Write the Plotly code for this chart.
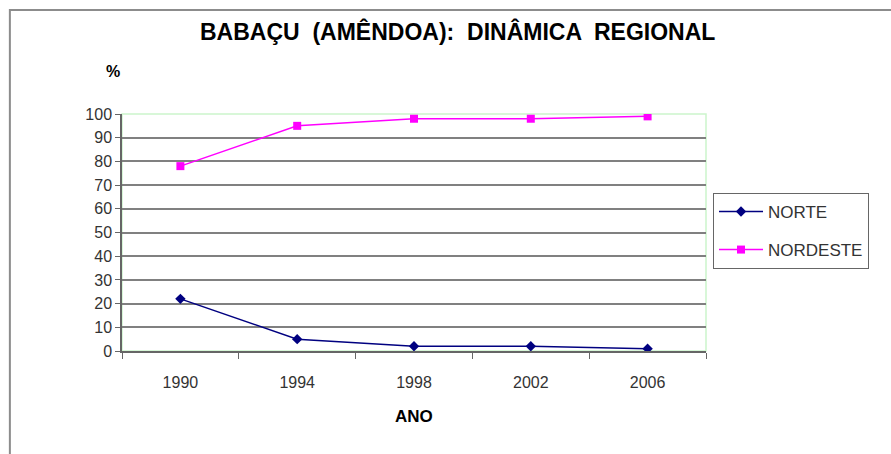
import plotly.graph_objects as go

# Regional share of babaçu (amêndoa) production, in percent
anos = ["1990", "1994", "1998", "2002", "2006"]
norte = [22, 5, 2, 2, 1]
nordeste = [78, 95, 98, 98, 99]
y_ticks = [0, 10, 20, 30, 40, 50, 60, 70, 80, 90, 100]

FONT = "Liberation Sans, Arial, sans-serif"

fig = go.Figure()
fig.add_trace(go.Scatter(
    x=anos, y=norte, name="NORTE", mode="lines+markers",
    line=dict(color="#000080", width=1.5),
    marker=dict(symbol="diamond", size=8, color="#000080"),
    legendgroup="a",
))
fig.add_trace(go.Scatter(
    x=anos, y=nordeste, name="NORDESTE", mode="lines+markers",
    line=dict(color="#ff00ff", width=1.5),
    marker=dict(symbol="square", size=8, color="#ff00ff"),
    legendgroup="b",
))

fig.update_layout(
    width=891, height=454,
    margin=dict(l=122, r=185, t=114, b=103),
    paper_bgcolor="white", plot_bgcolor="white",
    font=dict(family=FONT, size=16, color="#333333"),
    showlegend=True,
    legend=dict(
        x=1.012, y=0.667, xanchor="left", yanchor="top",
        bordercolor="#666666", borderwidth=1,
        font=dict(family=FONT, size=17, color="#333333"),
        tracegroupgap=13, itemwidth=44,
    ),
    xaxis=dict(
        type="category", range=[-0.5, 4.5],
        showgrid=False, showline=True, linecolor="#666666", linewidth=1.5,
        ticks="outside", tickson="boundaries", ticklen=6, tickcolor="#666666",
        tickfont=dict(family=FONT, size=16, color="#333333"),
        ticklabelstandoff=16,
        fixedrange=True,
    ),
    yaxis=dict(
        range=[0, 100], tickvals=y_ticks,
        showgrid=True, gridcolor="#808080", gridwidth=1.5,
        showline=True, linecolor="#666666", linewidth=1.5,
        ticks="outside", ticklen=5, tickcolor="#666666",
        tickfont=dict(family=FONT, size=16, color="#333333"),
        zeroline=False, fixedrange=True,
    ),
    shapes=[
        # plot-area frame (top and right edges)
        dict(type="rect", xref="paper", yref="paper", x0=0, x1=1, y0=0, y1=1,
             line=dict(color="#ccf5cc", width=1.5), layer="between"),
        # outer chart border
        dict(type="rect", xref="paper", yref="paper",
             x0=-0.192, x1=1.33, y0=-0.47, y1=1.439,
             line=dict(color="#8c8c8c", width=2), layer="below"),
    ],
    annotations=[
        dict(text="<b>BABAÇU  (AMÊNDOA):  DINÂMICA  REGIONAL</b>",
             xref="paper", yref="paper", x=0.575, y=1.35, yanchor="middle",
             showarrow=False, font=dict(family=FONT, size=23, color="black")),
        dict(text="<b>%</b>", xref="paper", yref="paper", x=-0.031, y=1.18,
             yanchor="middle",
             showarrow=False, font=dict(family=FONT, size=16, color="black")),
        dict(text="<b>ANO</b>", xref="paper", yref="paper", x=0.5, y=-0.275,
             yanchor="middle",
             showarrow=False, font=dict(family=FONT, size=17, color="black")),
    ],
)

fig.write_html("out.html")
